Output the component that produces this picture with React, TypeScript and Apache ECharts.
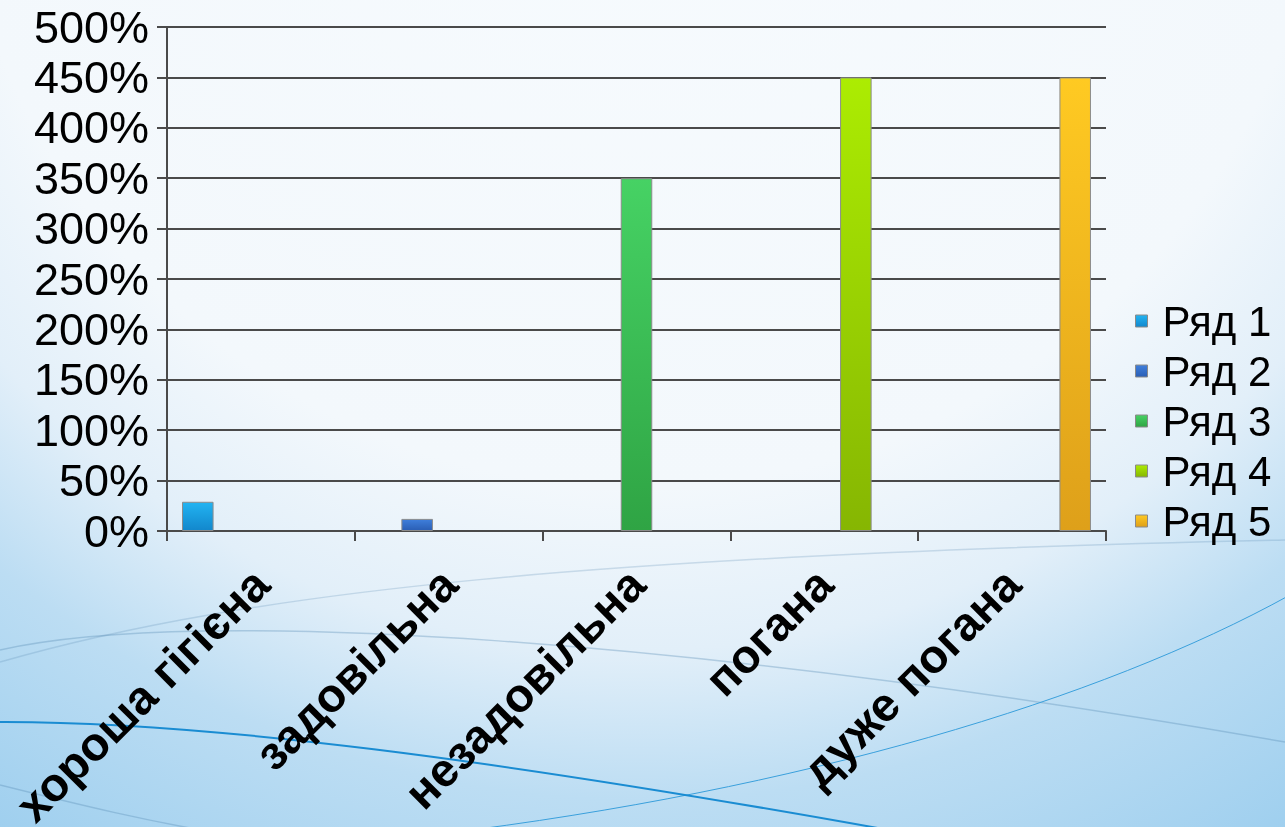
import React, { useEffect, useRef } from "react";
import * as echarts from "echarts";

const categories = ["хороша гігієна", "задовільна", "незадовільна", "погана", "дуже погана"];
const seriesNames = ["Ряд 1", "Ряд 2", "Ряд 3", "Ряд 4", "Ряд 5"];
const row1 = [29, null, null, null, null];
const row2 = [null, 12, null, null, null];
const row3 = [null, null, 350, null, null];
const row4 = [null, null, null, 450, null];
const row5 = [null, null, null, null, 450];
const yMin = 0;
const yMax = 500;
const yStep = 50;

const rows = [row1, row2, row3, row4, row5];
const barColors: [string, string][] = [
  ["#22b4f2", "#1287cc"],
  ["#3f7fdc", "#2a5eb4"],
  ["#46d264", "#2fa444"],
  ["#acec02", "#86b602"],
  ["#ffca22", "#dea01a"],
];

const FONT = "'Liberation Sans', Arial, sans-serif";

export default function App() {
  const ref = useRef<HTMLDivElement>(null);
  useEffect(() => {
    if (!ref.current) return;
    const chart = echarts.init(ref.current, null, { renderer: "svg" });
    const curve = (x1: number, y1: number, cpx1: number, cpy1: number, cpx2: number, cpy2: number, x2: number, y2: number, stroke: string, lineWidth: number) => ({
      type: "bezierCurve",
      z: -10,
      silent: true,
      shape: { x1, y1, cpx1, cpy1, cpx2, cpy2, x2, y2 },
      style: { stroke, lineWidth, fill: null },
    });
    chart.setOption({
      animation: false,
      backgroundColor: {
        type: "radial",
        x: 640,
        y: -200,
        r: 1250,
        global: true,
        colorStops: [
          { offset: 0, color: "#f7fbfe" },
          { offset: 0.55, color: "#f3f8fc" },
          { offset: 0.68, color: "#e2eff9" },
          { offset: 0.8, color: "#bcddf3" },
          { offset: 1, color: "#9acdee" },
        ],
      },
      graphic: [
        curve(0, 650, 200, 605, 700, 640, 1285, 742, "rgba(90,140,180,0.35)", 1.5),
        curve(0, 662, 250, 590, 600, 555, 1285, 540, "rgba(90,140,180,0.25)", 1.5),
        curve(0, 785, 80, 805, 150, 822, 230, 835, "rgba(90,140,180,0.35)", 1.5),
        curve(440, 834, 800, 790, 1100, 700, 1290, 595, "#3aa0dc", 1),
        curve(-10, 722, 200, 720, 500, 760, 900, 832, "#1a8cd2", 2),
      ],
      grid: {
        left: 167,
        right: 179,
        top: 27,
        bottom: 296,
        outerBoundsMode: "none",
      },
      legend: {
        orient: "vertical",
        left: 1130,
        top: 294,
        itemWidth: 12,
        itemHeight: 12,
        itemGap: 6,
        icon: "rect",
        data: seriesNames,
        itemStyle: { borderColor: "#8a8a8a", borderWidth: 1 },
        textStyle: {
          fontSize: 42,
          lineHeight: 44,
          color: "#000",
          fontFamily: FONT,
          padding: [0, 0, 0, 10],
        },
      },
      xAxis: {
        type: "category",
        data: categories,
        axisLine: { show: true, lineStyle: { color: "#4a4a4a", width: 2 } },
        axisTick: { show: true, length: 10, lineStyle: { color: "#4a4a4a", width: 2 } },
        axisLabel: {
          rotate: 45,
          interval: 0,
          margin: 45,
          fontSize: 47,
          fontWeight: "bold",
          color: "#000",
          fontFamily: FONT,
        },
      },
      yAxis: {
        type: "value",
        min: yMin,
        max: yMax,
        interval: yStep,
        axisLine: { show: true, lineStyle: { color: "#4a4a4a", width: 2 } },
        axisTick: { show: true, length: 10, lineStyle: { color: "#4a4a4a", width: 2 } },
        splitLine: { show: true, lineStyle: { color: "#4a4a4a", width: 2 } },
        axisLabel: {
          formatter: "{value}%",
          fontSize: 45,
          color: "#000",
          fontFamily: FONT,
          margin: 18,
        },
      },
      series: rows.map((data, i) => ({
        name: seriesNames[i],
        type: "bar",
        data,
        barGap: "0%",
        barCategoryGap: "16%",
        itemStyle: {
          color: {
            type: "linear",
            x: 0,
            y: 0,
            x2: 0,
            y2: 1,
            colorStops: [
              { offset: 0, color: barColors[i][0] },
              { offset: 1, color: barColors[i][1] },
            ],
          },
          borderColor: "#8c8c8c",
          borderWidth: 1,
        },
      })),
    });
    return () => chart.dispose();
  }, []);
  return (
    <div
      ref={ref}
      style={{ position: "fixed", left: 0, top: 0, width: 1285, height: 827 }}
    />
  );
}
